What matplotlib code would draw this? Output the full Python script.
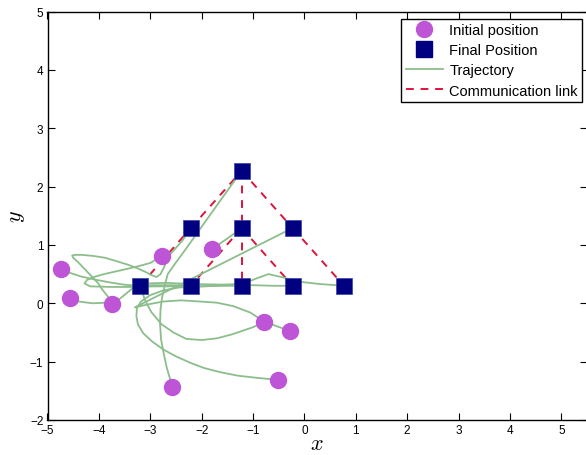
import matplotlib
matplotlib.use("Agg")
import matplotlib.pyplot as plt
from matplotlib.lines import Line2D

plt.rcParams['font.family'] = ['Liberation Sans', 'DejaVu Sans']
plt.rcParams['mathtext.fontset'] = 'cm'

# ---- data ----
init_x = [-4.73, -4.57, -3.74, -2.78, -1.80, -0.79, -0.29, -0.52, -2.58]
init_y = [0.58, 0.09, -0.02, 0.81, 0.93, -0.32, -0.47, -1.31, -1.43]

final_x = [-3.20, -2.21, -1.22, -0.23, 0.77, -2.21, -1.22, -0.23, -1.22]
final_y = [0.30, 0.30, 0.30, 0.30, 0.30, 1.29, 1.29, 1.29, 2.27]

# communication links as index pairs into final positions
links = [(0, 5), (5, 8), (8, 6), (6, 2), (8, 7), (7, 4), (6, 1), (6, 3)]

# trajectories
traj_A_x = [-4.73, -4.56, -4.35, -4.10, -3.80, -3.52, -3.25, -2.95, -2.60, -2.21]
traj_A_y = [0.58, 0.52, 0.46, 0.41, 0.36, 0.32, 0.30, 0.31, 0.31, 0.30]

traj_B_x = [-4.57, -4.39, -4.12, -3.86, -3.74, -3.59, -3.45, -3.33, -3.10, -2.70, -2.20, -1.60,
            -1.20, -0.95, -0.70, -0.45, -0.10, 0.30, 0.77]
traj_B_y = [0.09, 0.03, 0.00, 0.01, -0.01, 0.08, 0.18, 0.27, 0.34, 0.35, 0.33, 0.32,
            0.33, 0.42, 0.50, 0.45, 0.37, 0.33, 0.30]

traj_C_x = [-3.74, -3.82, -3.93, -4.02, -4.15, -4.27, -4.40, -4.50, -4.52, -4.45, -4.33, -4.10,
            -3.88, -3.65, -3.43, -3.25, -3.10, -2.97, -2.88, -2.80, -2.73, -2.65, -2.52, -2.37, -2.21]
traj_C_y = [-0.02, 0.11, 0.23, 0.35, 0.47, 0.58, 0.70, 0.78, 0.82, 0.83, 0.83, 0.81,
            0.78, 0.72, 0.66, 0.60, 0.54, 0.48, 0.45, 0.50, 0.62, 0.80, 0.93, 1.08, 1.29]

traj_D_x = [-2.78, -3.00, -3.30, -3.60, -3.90, -4.10, -4.23, -4.28, -4.17, -3.74, -3.33, -2.90,
            -2.50, -2.00, -1.60, -1.22]
traj_D_y = [0.81, 0.69, 0.62, 0.56, 0.50, 0.45, 0.40, 0.34, 0.29, 0.28, 0.28, 0.29,
            0.29, 0.29, 0.30, 0.30]

traj_E_x = [-1.80, -1.50, -1.22]
traj_E_y = [0.93, 1.11, 1.29]

traj_F_x = [-0.79, -1.00, -1.40, -1.70, -2.00, -2.30, -2.55, -2.78, -2.98, -3.10, -3.20]
traj_F_y = [-0.32, -0.41, -0.53, -0.60, -0.63, -0.61, -0.50, -0.36, -0.15, 0.05, 0.30]

traj_G_x = [-0.29, -0.55, -0.79, -1.05, -1.38, -1.70, -2.03, -2.40, -2.75, -3.05, -3.30, -0.23]
traj_G_y = [-0.47, -0.39, -0.31, -0.16, -0.05, 0.01, 0.03, 0.05, 0.03, -0.02, -0.07, 1.29]

traj_H_x = [-0.52, -0.90, -1.30, -1.64, -1.95, -2.22, -2.50, -2.75, -2.97, -3.14, -3.24, -3.27,
            -3.26, -3.18, -3.00, -2.75, -2.45, -2.00, -1.50, -1.00, -0.60, -0.23]
traj_H_y = [-1.31, -1.28, -1.24, -1.18, -1.11, -1.02, -0.91, -0.79, -0.65, -0.51, -0.36, -0.22,
            -0.08, 0.03, 0.14, 0.22, 0.27, 0.29, 0.31, 0.31, 0.30, 0.30]

traj_I_x = [-2.58, -2.61, -2.68, -2.74, -2.79, -2.81, -2.80, -2.77, -2.72, -2.66, -2.50, -2.30,
            -2.05, -1.75, -1.45, -1.22]
traj_I_y = [-1.43, -1.31, -1.10, -0.85, -0.62, -0.34, -0.10, 0.10, 0.30, 0.50, 0.70, 0.94,
            1.25, 1.62, 1.99, 2.27]

trajectories = [(traj_A_x, traj_A_y), (traj_B_x, traj_B_y), (traj_C_x, traj_C_y),
                (traj_D_x, traj_D_y), (traj_E_x, traj_E_y), (traj_F_x, traj_F_y),
                (traj_G_x, traj_G_y), (traj_H_x, traj_H_y), (traj_I_x, traj_I_y)]

x_ticks = [-5, -4, -3, -2, -1, 0, 1, 2, 3, 4, 5]
y_ticks = [-2, -1, 0, 1, 2, 3, 4, 5]

# ---- style ----
c_init = '#BE55D7'
c_final = '#000080'
c_traj = '#8CBE8C'
c_link = '#DC143C'

fig = plt.figure(figsize=(5.86, 4.56), dpi=100)
ax = fig.add_axes([47.5 / 586, 35 / 456, (587 - 47.5) / 586, (421 - 12.5) / 456])

for tx, ty in trajectories:
    ax.plot(tx, ty, color=c_traj, lw=1.3, zorder=2, solid_capstyle='round')

for i, j in links:
    ax.plot([final_x[i], final_x[j]], [final_y[i], final_y[j]], color=c_link, lw=1.4,
            ls=(0, (4, 3.5)), zorder=1)

ax.plot(init_x, init_y, 'o', color=c_init, ms=11.5, mec=c_init, zorder=3)
ax.plot(final_x, final_y, 's', color=c_final, ms=11, mec='#3344aa', mew=0.5, zorder=4)

ax.set_xlim(-5, 5.5)
ax.set_ylim(-2, 5)
ax.set_xticks(x_ticks)
ax.set_yticks(y_ticks)
ax.tick_params(direction='in', length=5, width=0.8, top=True, right=True, labelsize=8.5, pad=3)
for s in ax.spines.values():
    s.set_linewidth(1.0)

ax.set_xlabel('$x$', fontsize=16, labelpad=-2)
ax.set_ylabel('$y$', fontsize=16, labelpad=2)

handles = [
    Line2D([], [], marker='o', ls='none', color=c_init, ms=11.5),
    Line2D([], [], marker='s', ls='none', color=c_final, ms=11),
    Line2D([], [], color=c_traj, lw=1.3),
    Line2D([], [], color=c_link, lw=1.4, ls=(0, (4, 3.5))),
]
labels = ['Initial position', 'Final Position', 'Trajectory', 'Communication link']
leg = ax.legend(handles, labels, loc='upper right', bbox_to_anchor=(0.991, 0.982),
                borderaxespad=0, fontsize=10.5, fancybox=False, framealpha=1,
                edgecolor='black', handlelength=2.6, handletextpad=0.4,
                labelspacing=0.42, borderpad=0.3)
leg.get_frame().set_linewidth(1.0)

fig.savefig('out.png', dpi=100)
